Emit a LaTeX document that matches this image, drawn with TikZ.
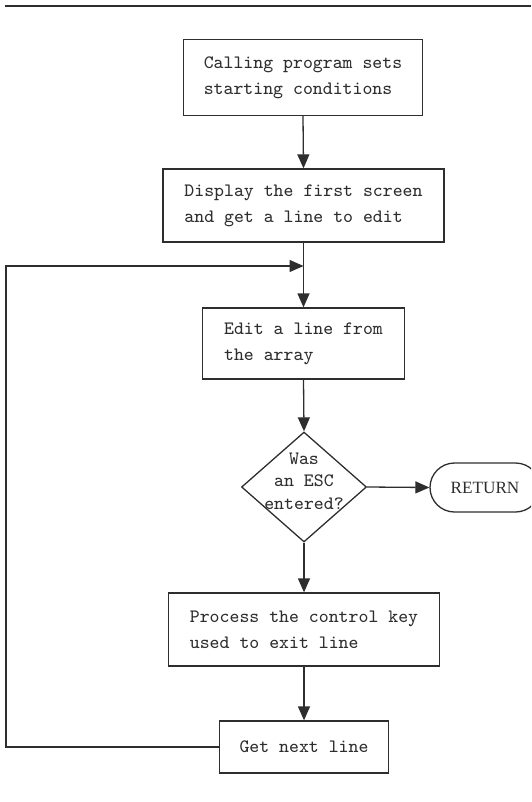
\documentclass[tikz,border=0pt]{standalone}
\usepackage{fontspec}
\newfontfamily\retfont{Liberation Serif}
\usetikzlibrary{shapes.geometric,shapes.misc,arrows.meta}
\definecolor{ink}{HTML}{2E2E2E}
\begin{document}
\begin{tikzpicture}[x=0.5pt,y=-0.5pt,
  every node/.style={text=ink},
  tt/.style={font=\ttfamily\fontsize{9.45}{13}\selectfont},
  pbox/.style={tt,draw=ink,line width=0.65pt,rectangle,align=left,inner sep=0pt},
  arr/.style={draw=ink,line width=0.65pt,-{Triangle[length=7pt,width=6pt]}},
  ln/.style={draw=ink,line width=0.65pt}]
\useasboundingbox (0,0) rectangle (531,802);
\clip (0,0) rectangle (531,802);
\draw[ln,line width=1pt] (5,6) -- (531,6);
\node[pbox,minimum width=119.5pt,minimum height=38pt] (b1) at (303,77.5) {Calling program sets\\starting conditions};
\node[pbox,minimum width=140.5pt,minimum height=36.5pt] (b2) at (303.5,205.5) {Display the first screen\\and get a line to edit};
\node[pbox,minimum width=101pt,minimum height=35.5pt] (b3) at (303.5,343.5) {Edit a line from\\the array};
\node[diamond,draw=ink,line width=0.65pt,minimum width=62.5pt,minimum height=55pt,inner sep=0pt] (dec) at (304,487) {};
\node[tt,align=center,font=\ttfamily\fontsize{9.45}{11.25}\selectfont] (dect) at (304,481) {Was\\an ESC\\entered?};
\node[rounded rectangle,draw=ink,line width=0.65pt,minimum width=55pt,minimum height=24.5pt,inner sep=0pt,font=\retfont\fontsize{8.6}{10}\selectfont] (ret) at (485,487.5) {RETURN};
\node[pbox,minimum width=135.5pt,minimum height=36.5pt] (b4) at (304,629.5) {Process the control key\\used to exit line};
\node[pbox,minimum width=84.5pt,minimum height=26pt] (b5) at (304,747) {Get next line};
\coordinate (j) at (303.5,266);
\coordinate (lx) at (6,0);
\draw[arr] (b1.south) -- (b2.north);
\draw[arr] (b2.south) -- (b3.north);
\draw[arr] (b3.south) -- (dec.north);
\draw[arr] (dec.east) -- (ret.west);
\draw[arr] (dec.south) -- (b4.north);
\draw[arr] (b4.south) -- (b5.north);
\draw[arr] (b5.west) -| (lx |- j) -- (j);
\end{tikzpicture}
\end{document}
